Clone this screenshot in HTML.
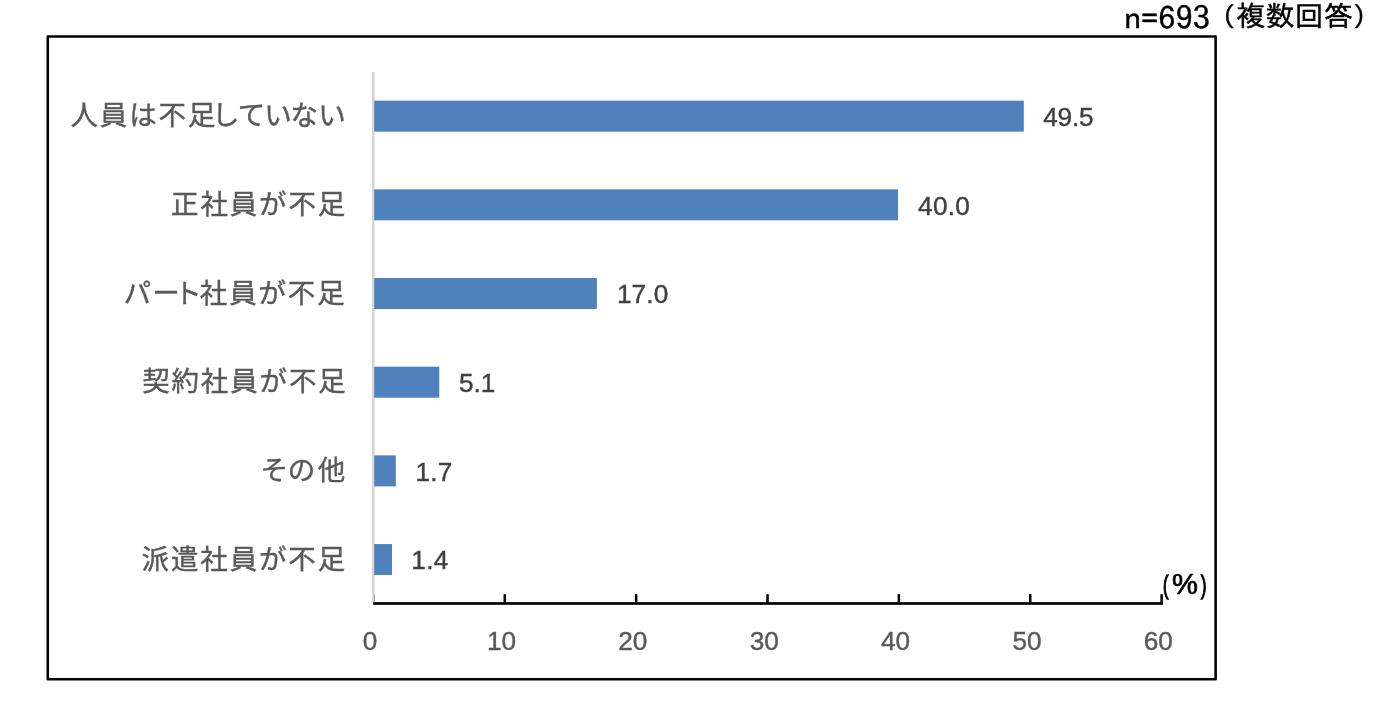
<!DOCTYPE html>
<html lang="ja">
<head>
<meta charset="utf-8">
<title>n=693（複数回答）</title>
<style>
html,body{margin:0;padding:0;background:#fff;}
body{width:1376px;height:701px;position:relative;overflow:hidden;font-family:"Liberation Sans","Noto Sans CJK JP",sans-serif;}
.g{position:absolute;left:0;top:0;display:block;}
.t{position:absolute;white-space:nowrap;line-height:1;margin:0;padding:0;}
.cat{font-family:"Noto Sans CJK JP","Liberation Sans",sans-serif;font-size:27.5px;letter-spacing:1.85px;color:#595959;-webkit-text-stroke:0.4px #595959;}
.val{font-size:26.2px;color:#404040;-webkit-text-stroke:0.4px #404040;}
.ax{font-size:26.2px;color:#595959;-webkit-text-stroke:0.4px #595959;}
.n1{font-family:"IPAGothic","Liberation Sans",sans-serif;font-size:34.4px;color:#000;transform:scaleY(0.905);transform-origin:0 0;-webkit-text-stroke:0.45px #000;}
.n2{font-family:"IPAGothic","Liberation Sans",sans-serif;font-size:29.1px;color:#000;transform:scaleY(0.965);transform-origin:0 0;-webkit-text-stroke:0.45px #000;}
.lp,.rp{position:relative;font-size:.94em}
.lp{left:-0.7px}
.rp{left:0.1px}
.w{position:absolute;left:0;top:0;width:0;height:0;}
.pp{font-size:27px;color:#000;-webkit-text-stroke:1.3px #000;transform-origin:0 0;}
.pc{font-size:28px;color:#000;-webkit-text-stroke:0.7px #000;transform-origin:0 0;}
.t span{letter-spacing:inherit}

</style>
</head>
<body>
<svg class="g" width="1376" height="701" viewBox="0 0 1376 701">
<rect x="47.78" y="36.55" width="1167.85" height="642.7" fill="none" stroke="#000" stroke-width="2.55" stroke-linejoin="round"/>
<rect x="372.1" y="71.9" width="2.55" height="531.4" fill="#d5d5d5"/>
<rect x="374.2" y="100.65" width="649.6" height="31" fill="#4f81bd"/>
<rect x="374.2" y="189.33" width="523.8" height="31" fill="#4f81bd"/>
<rect x="374.2" y="278.01" width="222.7" height="31" fill="#4f81bd"/>
<rect x="374.2" y="366.69" width="65.1" height="31" fill="#4f81bd"/>
<rect x="374.2" y="455.37" width="21.6" height="31" fill="#4f81bd"/>
<rect x="374.2" y="544.05" width="17.8" height="31" fill="#4f81bd"/>
<rect x="373.2" y="602.15" width="789.7" height="2.67" fill="#000"/>
<rect x="373.9" y="594.5" width="0.9" height="8" fill="#9a9a9a"/>
<rect x="503.52" y="594.2" width="2.5" height="9.28" fill="#000"/>
<rect x="634.89" y="594.2" width="2.5" height="9.28" fill="#000"/>
<rect x="766.26" y="594.2" width="2.5" height="9.28" fill="#000"/>
<rect x="897.63" y="594.2" width="2.5" height="9.28" fill="#000"/>
<rect x="1029" y="594.2" width="2.5" height="9.28" fill="#000"/>
<rect x="1160.37" y="594.2" width="2.5" height="9.28" fill="#000"/>
</svg>
<div id="c1" class="t cat" style="left:70.5px;top:100.44px">人員は不<span style="letter-spacing:-3.4px">足</span><span style="letter-spacing:-1.0px">して</span><span style="letter-spacing:-1.3px">い</span><span style="letter-spacing:0.3px">な</span>い</div>
<div id="c2" class="t cat" style="left:171.06px;top:189.1px">正社員が不足</div>
<div id="c3" class="t cat" style="left:123.41px;top:277.76px"><span style="letter-spacing:1.4px">パ</span><span style="letter-spacing:-5.5px">ー</span><span style="letter-spacing:-2.0px">ト</span>社員が不足</div>
<div id="c4" class="t cat" style="left:142.18px;top:366.42px">契約社員が不足</div>
<div id="c5" class="t cat" style="left:260.38px;top:455.08px"><span style="letter-spacing:-0.1px">そ</span><span style="letter-spacing:2.4px">の</span>他</div>
<div id="c6" class="t cat" style="left:141.6px;top:543.74px">派遣社員が不足</div>
<div id="v1" class="t val" style="left:1043.23px;top:103.92px;letter-spacing:-0.2px">49.5</div>
<div id="v2" class="t val" style="left:918.04px;top:192.58px;letter-spacing:0.29px">40.0</div>
<div id="v3" class="t val" style="left:616.88px;top:281.24px;letter-spacing:0.13px">17.0</div>
<div id="v4" class="t val" style="left:458.93px;top:369.9px;letter-spacing:-0.06px">5.1</div>
<div id="v5" class="t val" style="left:415.42px;top:458.56px;letter-spacing:0.19px">1.7</div>
<div id="v6" class="t val" style="left:411.37px;top:547.22px;letter-spacing:0.32px">1.4</div>
<div id="a0" class="t ax" style="left:362.82px;top:627.62px">0</div>
<div id="a1" class="t ax" style="left:486.9px;top:627.62px">10</div>
<div id="a2" class="t ax" style="left:618.27px;top:627.62px">20</div>
<div id="a3" class="t ax" style="left:749.64px;top:627.62px">30</div>
<div id="a4" class="t ax" style="left:881.01px;top:627.62px">40</div>
<div id="a5" class="t ax" style="left:1012.38px;top:627.62px">50</div>
<div id="a6" class="t ax" style="left:1143.75px;top:627.62px">60</div>
<div class="w"><span id="p1" class="t pp" style="left:1162.5px;top:571.5px;font-size:26.2px;transform:scale(0.62,1)">(</span><span id="p2" class="t pc" style="left:1171.75px;top:569.5px;font-size:28.6px;transform:scale(1.02,1)">%</span><span id="p3" class="t pp" style="left:1201.1px;top:571.5px;font-size:26.2px;transform:scale(0.62,1)">)</span></div>
<div id="n1" class="t n1" style="left:1123.9px;top:3.45px">n=693</div>
<div id="n2" class="t n2" style="left:1209.05px;top:0.55px"><span class="lp">（</span>複数回答<span class="rp">）</span></div>
</body>
</html>
